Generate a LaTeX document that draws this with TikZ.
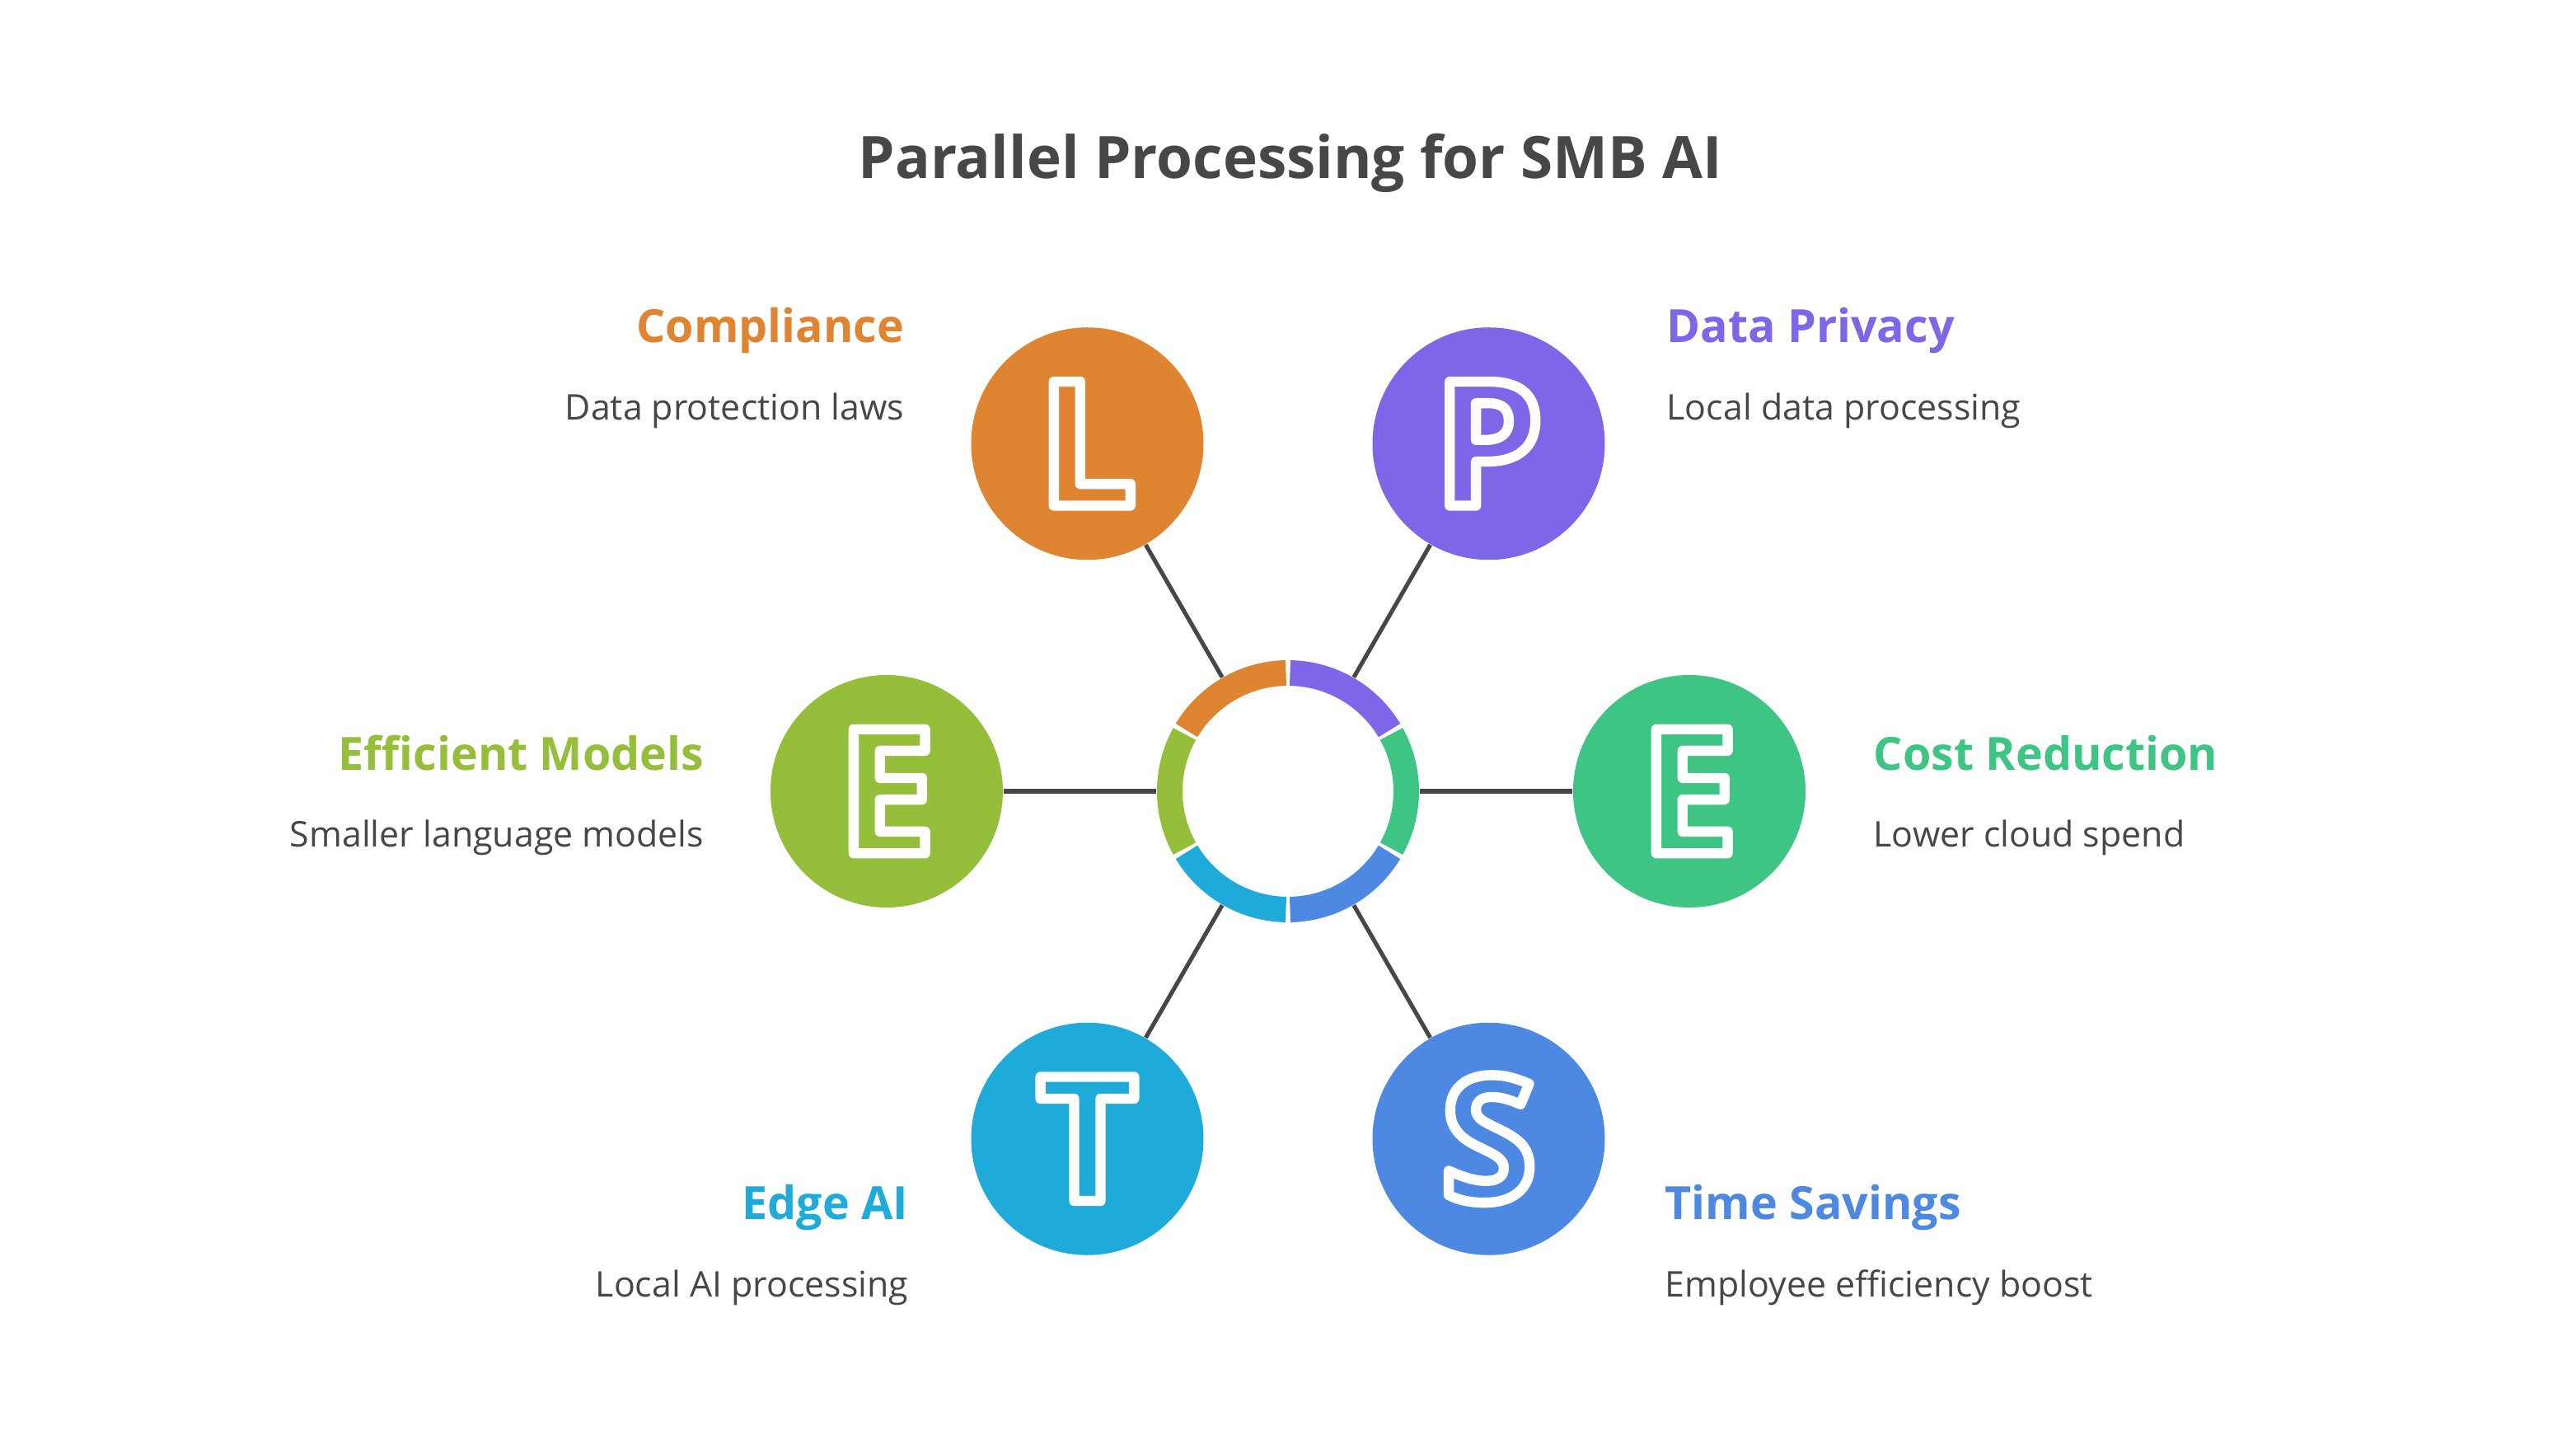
\documentclass[tikz,border=0pt]{standalone}
\usepackage{fontspec}
\setmainfont{Open Sans}
\usepackage{xcolor}
\definecolor{CompOrange}{HTML}{DF8431}
\definecolor{PrivPurple}{HTML}{7F66E8}
\definecolor{CostGreen}{HTML}{3EC584}
\definecolor{TimeBlue}{HTML}{4D89E3}
\definecolor{EdgeCyan}{HTML}{1FABDA}
\definecolor{ModelOlive}{HTML}{95BE3B}
\definecolor{InkGray}{HTML}{474747}
\usepackage{tikz}
\usetikzlibrary{positioning, calc}
\newcommand{\hollow}[1]{\special{pdf:literal direct 1 Tr 3.5 w 1 j}#1\special{pdf:literal direct 0 Tr}}

\begin{document}
\begin{tikzpicture}[
  spoke/.style={draw=InkGray, line width=1.45pt},
  badge/.style={circle, minimum size=2.82cm, inner sep=0pt, text=white,
                font=\bfseries\fontsize{60}{60}\selectfont},
  head/.style={font=\bfseries\fontsize{15.8}{20}\selectfont, inner sep=0pt},
  desc/.style={font=\fontsize{12.2}{14}\selectfont, text=InkGray, inner sep=0pt},
]
\useasboundingbox (-15.63,9.60) rectangle (15.63,-7.98);
\node[font=\bfseries\fontsize{20.2}{24}\selectfont, text=InkGray, anchor=base]
  (title) at (0.03,7.43) {Parallel Processing for SMB AI};

\node[circle, minimum size=3.18cm, inner sep=0pt] (hub) at (0,0) {};
\foreach \a/\c in {90/CompOrange,30/PrivPurple,-30/CostGreen,-90/TimeBlue,-150/EdgeCyan,150/ModelOlive}
  \draw[\c, line width=0.31cm] ({\a+1}:1.435) arc[start angle=\a+1, end angle=\a+59, radius=1.435];

\foreach \n/\a/\c/\l in {comp/120/CompOrange/L,priv/60/PrivPurple/P,cost/0/CostGreen/E,
                         time/-60/TimeBlue/S,edge/-120/EdgeCyan/T,model/180/ModelOlive/E} {
  \node[badge, fill=\c] (\n) at (\a:4.87) {\hollow{\l}};
  \draw[spoke] (hub) -- (\n);
}

\node[head, text=CompOrange, anchor=base east] (compH) at (-4.65,5.44) {Compliance};
\node[desc, anchor=base east] (compD) at (-4.65,4.50) {Data protection laws};

\node[head, text=PrivPurple, anchor=base west] (privH) at (4.59,5.44) {Data Privacy};
\node[desc, anchor=base west] (privD) at (4.59,4.50) {Local data processing};

\node[head, text=ModelOlive, anchor=base east] (modelH) at (-7.08,0.25) {Efficient Models};
\node[desc, anchor=base east] (modelD) at (-7.08,-0.68) {Smaller language models};

\node[head, text=CostGreen, anchor=base west] (costH) at (7.10,0.25) {Cost Reduction};
\node[desc, anchor=base west] (costD) at (7.10,-0.68) {Lower cloud spend};

\node[head, text=EdgeCyan, anchor=base east] (edgeH) at (-4.60,-5.19) {Edge AI};
\node[desc, anchor=base east] (edgeD) at (-4.60,-6.13) {Local AI processing};

\node[head, text=TimeBlue, anchor=base west] (timeH) at (4.57,-5.19) {Time Savings};
\node[desc, anchor=base west] (timeD) at (4.57,-6.13) {Employee efficiency boost};
\end{tikzpicture}
\end{document}
